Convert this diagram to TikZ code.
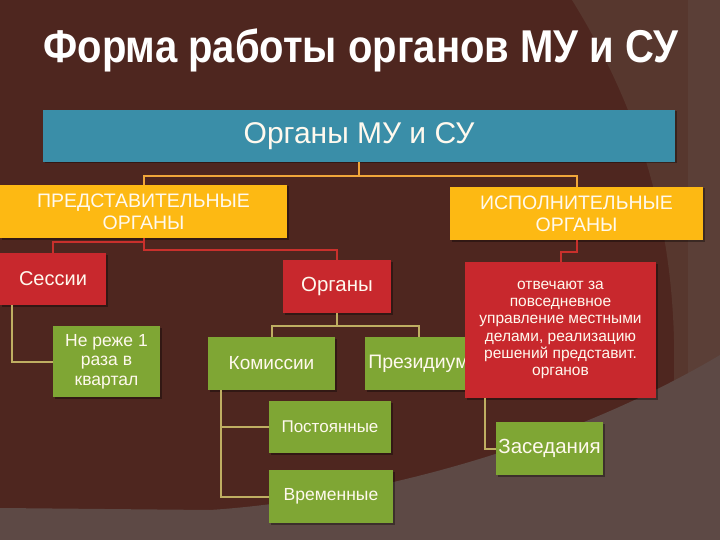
\documentclass[tikz,border=0pt]{standalone}
\usepackage{fontspec}
\setmainfont{Liberation Sans}
\usepackage{graphicx}
\usetikzlibrary{shadows}

\definecolor{bgbrown}{HTML}{4E261F}
\definecolor{bgwedge}{HTML}{57372E}
\definecolor{bggray}{HTML}{5D4945}
\definecolor{bgstrip}{HTML}{5B3F37}
\definecolor{boxblue}{HTML}{3A8EA8}
\definecolor{boxyellow}{HTML}{FDB913}
\definecolor{boxred}{HTML}{C8282D}
\definecolor{boxgreen}{HTML}{7FA634}
\definecolor{lineorange}{HTML}{F0A63A}
\definecolor{linered}{HTML}{C9302C}
\definecolor{lineolive}{HTML}{BFAE62}
\definecolor{textcream}{HTML}{FFF9EE}

\begin{document}
\begin{tikzpicture}
        [x=1pt,y=-1pt,
         box_style/.style={rectangle,inner sep=0pt,align=center,text=textcream,
                           drop shadow={shadow xshift=1.5pt,shadow yshift=-1.5pt,fill=black,opacity=0.35}},
         node_blue/.style={box_style,fill=boxblue},
         node_yellow/.style={box_style,fill=boxyellow},
         node_red/.style={box_style,fill=boxred},
         node_green/.style={box_style,fill=boxgreen},
         edge_orange/.style={draw=lineorange,line width=2pt},
         edge_red/.style={draw=linered,line width=2pt},
         edge_olive/.style={draw=lineolive,line width=2pt}]
            % background
            \useasboundingbox (0,0) rectangle (720,540);
            \fill[bgbrown] (0,0) rectangle (720,540);
            \fill[bgwedge] (572,0) .. controls (640,110) and (685,240) .. (672,420) -- (720,420) -- (720,0) -- cycle;
            \fill[bgstrip] (688,0) rectangle (720,420);
            \fill[bggray] (0,508) -- (210,510) .. controls (360,500) and (560,450) .. (720,355) -- (720,540) -- (0,540) -- cycle;
            % title
            \node[text=white,anchor=base] (title) at (361,63)
                {\scalebox{0.87}[1]{\fontsize{46}{46}\selectfont\bfseries Форма работы органов МУ и СУ}};
            % boxes
            \node[node_blue,minimum width=632pt,minimum height=52pt,font=\fontsize{30}{30}\selectfont] (root) at (359,136)
                {Органы МУ и СУ};
            \node[node_yellow,minimum width=287pt,minimum height=53pt,font=\fontsize{19.5}{22}\selectfont] (pred) at (143.5,211.5)
                {ПРЕДСТАВИТЕЛЬНЫЕ\\ОРГАНЫ};
            \node[node_yellow,minimum width=253pt,minimum height=53pt,font=\fontsize{19.5}{22}\selectfont] (isp) at (576.5,213.5)
                {ИСПОЛНИТЕЛЬНЫЕ\\ОРГАНЫ};
            \node[node_red,minimum width=106pt,minimum height=52pt,font=\fontsize{20}{20}\selectfont] (sess) at (53,279)
                {Сессии};
            \node[node_red,minimum width=108pt,minimum height=53pt,font=\fontsize{20.5}{20.5}\selectfont] (org) at (337,286.5)
                {Органы};
            \node[node_green,minimum width=107pt,minimum height=71pt,font=\fontsize{17.5}{19.5}\selectfont] (rare) at (106.5,361.5)
                {Не реже 1\\раза в\\квартал};
            \node[node_green,minimum width=127pt,minimum height=53pt,font=\fontsize{19}{19}\selectfont] (kom) at (271.5,363.5)
                {Комиссии};
            \node[node_green,minimum width=107pt,minimum height=53pt,font=\fontsize{19.5}{19.5}\selectfont] (prez) at (418.5,363.5)
                {Президиум};
            \node[node_red,minimum width=191pt,minimum height=136pt,font=\fontsize{15.5}{17.3}\selectfont] (resp) at (560.5,330)
                {отвечают за\\повседневное\\управление местными\\делами, реализацию\\решений представит.\\органов};
            \node[node_green,minimum width=122pt,minimum height=52pt,font=\fontsize{17}{17}\selectfont] (post) at (330,427)
                {Постоянные};
            \node[node_green,minimum width=124pt,minimum height=53pt,font=\fontsize{17.5}{17.5}\selectfont] (vrem) at (331,496.5)
                {Временные};
            \node[node_green,minimum width=107pt,minimum height=53pt,font=\fontsize{20.5}{20.5}\selectfont] (zas) at (549.5,448.5)
                {Заседания};
            % connectors
            \coordinate (j1) at (359,176);
            \coordinate (j2) at (143.5,242);
            \coordinate (j3) at (143.5,250);
            \draw[edge_orange] (root.south) -- (j1) -| (pred.north);
            \draw[edge_orange] (j1) -| (isp.north);
            \draw[edge_red] (pred.south) -- (j2) -| (sess.north);
            \draw[edge_red] (j2) -- (j3) -| (org.north);
            \draw[edge_red] (isp.south) -- ++(0,12) -| (resp.north);
            \draw[edge_olive] ([xshift=12pt]sess.south west) |- (rare.west);
            \draw[edge_olive] (org.south) -- ++(0,13) coordinate (j4) -| (kom.north);
            \draw[edge_olive] (j4) -| (prez.north);
            \draw[edge_olive] ([xshift=13pt]kom.south west) |- (post.west);
            \draw[edge_olive] ([xshift=13pt]kom.south west) |- (vrem.west);
            \draw[edge_olive] ([xshift=20pt]resp.south west) |- (zas.west);
        \end{tikzpicture}
\end{document}
